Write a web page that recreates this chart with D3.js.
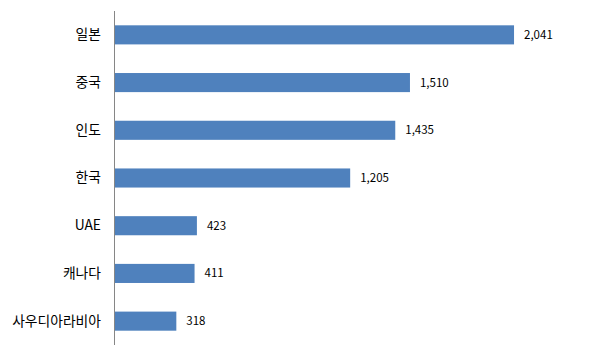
<!DOCTYPE html>
<html><head><meta charset="utf-8">
<script src="https://cdn.jsdelivr.net/npm/d3@7"></script>
<style>body{margin:0;background:#fff}</style>
</head><body>
<svg id="c" width="615" height="358"></svg>
<script>
const categories = ["일본","중국","인도","한국","UAE","캐나다","사우디아라비아"];
const values = [2041,1510,1435,1205,423,411,318];
const valueLabels = ["2,041","1,510","1,435","1,205","423","411","318"];

const svg = d3.select("#c");
const x = d3.scaleLinear().domain([0,2500]).range([114,604]);
const y = d3.scaleBand().domain(categories).range([11,345]).paddingInner(0.6).paddingOuter(0.3);

svg.selectAll("rect.bar").data(categories).enter().append("rect")
  .attr("class","bar")
  .attr("x", x(0))
  .attr("y", d=>y(d))
  .attr("width", (d,i)=>x(values[i])-x(0))
  .attr("height", y.bandwidth())
  .attr("fill","#4F81BD");

svg.selectAll("text.val").data(categories).enter().append("text")
  .attr("x",(d,i)=>x(values[i])+10)
  .attr("y",d=>y(d)+y.bandwidth()/2)
  .attr("dy","0.35em")
  .attr("font-family","'Noto Sans CJK KR', 'Liberation Sans', sans-serif")
  .attr("font-size",11.5)
  .attr("fill","#000")
  .text((d,i)=>valueLabels[i]);

const yAxis = d3.axisLeft(y).tickSize(0).tickPadding(13);
const g = svg.append("g").attr("transform",`translate(${x(0)},0)`).call(yAxis);
g.select(".domain").attr("stroke","#868686").attr("d","M0.5,11V345");
g.selectAll("text").attr("font-family","'Noto Sans CJK KR', sans-serif").attr("font-size",13.8).attr("fill","#000");
</script>
</body></html>
